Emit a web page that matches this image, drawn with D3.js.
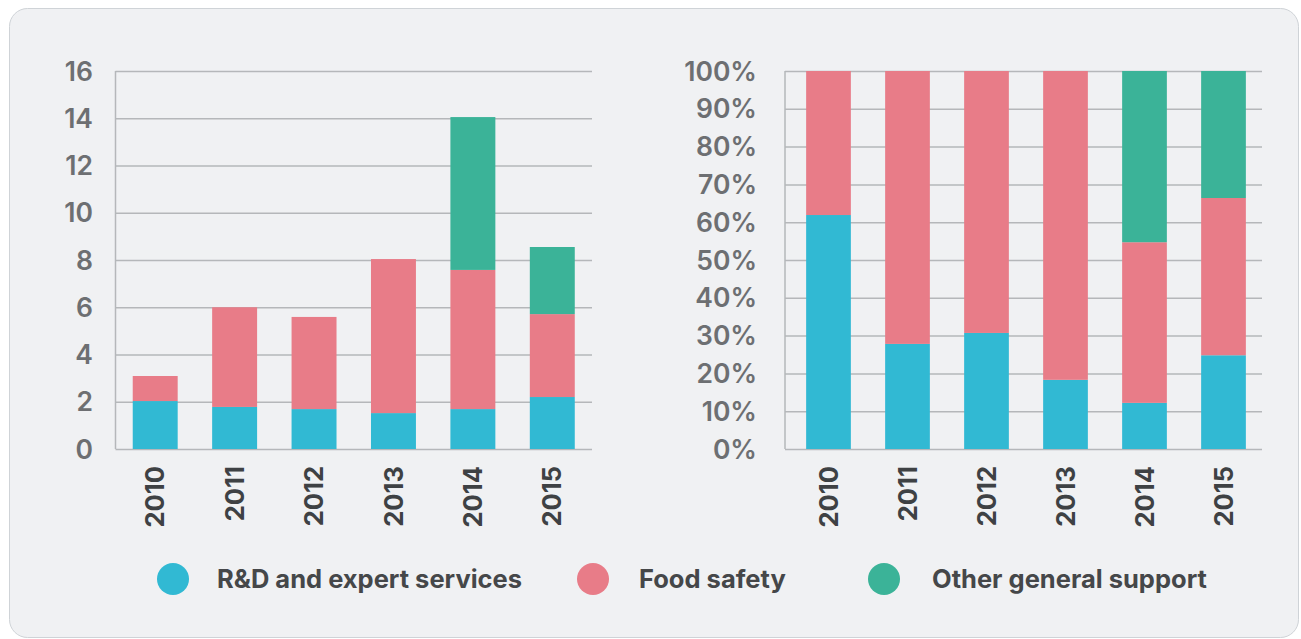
<!DOCTYPE html>
<html>
<head>
<meta charset="utf-8">
<script src="https://cdn.jsdelivr.net/npm/d3@7"></script>
<style>
  body { margin: 0; background: #ffffff; }
  text { font-family: Inter, "Noto Sans", sans-serif; }
</style>
</head>
<body>
<script>
// data
var years = ["2010", "2011", "2012", "2013", "2014", "2015"];
var seriesNames = ["R&D and expert services", "Food safety", "Other general support"];

// left chart: absolute values
var rdValues = [2.03, 1.78, 1.69, 1.52, 1.69, 2.2];
var foodValues = [1.06, 4.22, 3.9, 6.52, 5.89, 3.51];
var otherValues = [0, 0, 0, 0, 6.47, 2.84];
var leftTicks = [0, 2, 4, 6, 8, 10, 12, 14, 16];

// right chart: shares (%)
var rdShares = [61.9, 27.8, 30.7, 18.3, 12.2, 24.8];
var foodShares = [38.1, 72.2, 69.3, 81.7, 42.5, 41.6];
var otherShares = [0, 0, 0, 0, 45.3, 33.6];
var rightTicks = [0, 10, 20, 30, 40, 50, 60, 70, 80, 90, 100];

var colors = ["#31b9d3", "#e87c88", "#3bb398"];

var width = 1301;
var height = 639;

var svg = d3.select("body")
  .append("svg")
  .attr("width", width)
  .attr("height", height);

// rounded panel
svg.append("rect")
  .attr("x", 9.5)
  .attr("y", 8.5)
  .attr("width", 1289)
  .attr("height", 629)
  .attr("rx", 18)
  .attr("fill", "#f0f1f3")
  .attr("stroke", "#cfd3d7");

function buildRows(a, b, c) {
  return years.map(function(y, i) {
    return { year: y, rd: a[i], food: b[i], other: c[i] };
  });
}

function drawChart(opts) {
  var rows = buildRows(opts.a, opts.b, opts.c);
  var stack = d3.stack().keys(["rd", "food", "other"]);
  var layers = stack(rows);

  var yScale = d3.scaleLinear()
    .domain([0, opts.max])
    .range([449, 71]);

  var xScale = d3.scaleBand()
    .domain(years)
    .range(opts.band)
    .paddingInner(0.434)
    .paddingOuter(0.217);

  var g = svg.append("g");

  // gridlines
  g.append("g")
    .attr("transform", "translate(" + opts.axisX + ",0)")
    .call(d3.axisLeft(yScale)
      .tickValues(opts.ticks)
      .tickSize(-(opts.axisEnd - opts.axisX))
      .tickFormat(""))
    .call(function(s) {
      s.select(".domain").remove();
      s.selectAll(".tick line").attr("stroke", "#b5b7ba").attr("stroke-width", 1.5);
    });

  // vertical axis line
  g.append("line")
    .attr("x1", opts.axisX).attr("x2", opts.axisX)
    .attr("y1", yScale(opts.max)).attr("y2", yScale(0))
    .attr("stroke", "#b5b7ba")
    .attr("stroke-width", 1.5);

  // bars
  g.selectAll("g.layer")
    .data(layers)
    .join("g")
    .attr("class", "layer")
    .attr("fill", function(d, i) { return colors[i]; })
    .selectAll("rect")
    .data(function(d) { return d; })
    .join("rect")
    .attr("x", function(d) { return xScale(d.data.year); })
    .attr("width", xScale.bandwidth())
    .attr("y", function(d) { return yScale(d[1]); })
    .attr("height", function(d) { return yScale(d[0]) - yScale(d[1]); });

  // y tick labels
  g.selectAll("text.ytick")
    .data(opts.ticks)
    .join("text")
    .attr("class", "ytick")
    .attr("x", opts.labelX)
    .attr("y", function(d) { return yScale(d); })
    .attr("dy", "0.36em")
    .attr("text-anchor", "end")
    .attr("font-size", 26.5)
    .attr("font-weight", 600)
    .attr("fill", "#6d6f72")
    .text(opts.fmt);

  // year labels
  g.selectAll("text.year")
    .data(years)
    .join("text")
    .attr("class", "year")
    .attr("transform", function(d) {
      return "translate(" + (xScale(d) + xScale.bandwidth() / 2) + ",466) rotate(-90)";
    })
    .attr("dy", "0.36em")
    .attr("text-anchor", "end")
    .attr("font-size", 25.5)
    .attr("font-weight", 700)
    .attr("fill", "#3e4144")
    .text(function(d) { return d; });
}

drawChart({
  a: rdValues, b: foodValues, c: otherValues,
  max: 16, ticks: leftTicks,
  axisX: 115.5, axisEnd: 592, band: [115.5, 592],
  labelX: 93,
  fmt: function(d) { return d; }
});

drawChart({
  a: rdShares, b: foodShares, c: otherShares,
  max: 100, ticks: rightTicks,
  axisX: 785, axisEnd: 1262, band: [789, 1263],
  labelX: 757,
  fmt: function(d) { return d + "%"; }
});

// legend
var legendX = [173, 593, 884];
var legendTextX = [217, 639, 932];
var legend = svg.append("g");

legend.selectAll("circle")
  .data(seriesNames)
  .join("circle")
  .attr("cx", function(d, i) { return legendX[i]; })
  .attr("cy", 579)
  .attr("r", 16)
  .attr("fill", function(d, i) { return colors[i]; });

legend.selectAll("text")
  .data(seriesNames)
  .join("text")
  .attr("x", function(d, i) { return legendTextX[i]; })
  .attr("y", 579)
  .attr("dy", "0.36em")
  .attr("font-size", 25.5)
  .attr("font-weight", 700)
  .attr("fill", "#454749")
  .text(function(d) { return d; });
</script>
</body>
</html>
